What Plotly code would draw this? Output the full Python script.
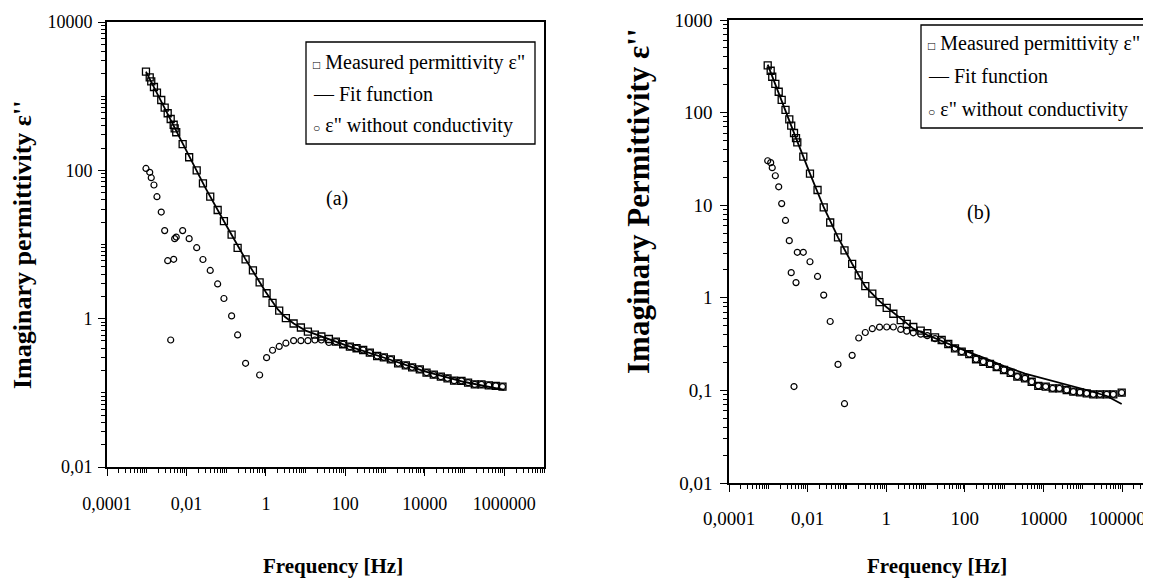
import plotly.graph_objects as go

# The page body keeps a default 8px margin, so the figure is sized and placed to fill the window.
PAGE_W, PAGE_H, BODY = 1151, 580, 8
W, H = PAGE_W - BODY, PAGE_H - BODY

# ---------------- Panel (a) data ----------------
freq_a = [9.57e-4, 1.19e-3, 1.30e-3, 1.52e-3, 1.81e-3, 2.32e-3, 2.83e-3, 3.37e-3, 4.01e-3, 4.77e-3,
          5.05e-3, 5.53e-3, 8.02e-3, 0.0117, 0.0181, 0.0260, 0.0397, 0.0610, 0.0877, 0.137,
          0.194, 0.308, 0.471, 0.695, 1.04, 1.47, 2.16, 3.18, 4.98, 7.60,
          11.4, 17.1, 24.9, 38.5, 57.7, 88.1, 130, 191, 281, 413,
          631, 931, 1396, 2128, 3327, 4797, 7482, 11040, 16830, 25290,
          37240, 54580, 83750, 122700, 181100, 266700, 407400, 610900, 901500]
measured_a = [2138, 1795, 1585, 1330, 1114, 888, 700, 588, 492, 412,
              369, 326, 226, 150, 100, 66.8, 44.2, 29.2, 20.6, 13.6,
              8.98, 6.32, 4.49, 3.09, 2.20, 1.63, 1.28, 1.02, 0.861, 0.760,
              0.667, 0.608, 0.575, 0.532, 0.490, 0.452, 0.419, 0.399, 0.378, 0.348,
              0.314, 0.301, 0.283, 0.250, 0.235, 0.221, 0.207, 0.187, 0.176, 0.165,
              0.157, 0.146, 0.145, 0.137, 0.130, 0.130, 0.126, 0.124, 0.121]
noncond_a = [106, 94.1, 79.6, 63.4, 44.1, 27.4, 15.4, 6.05, 0.516, 6.32,
             12.0, 12.6, 15.4, 12.0, 9.06, 6.28, 4.47, 2.94, 1.87, 1.09,
             0.603, 0.250, None, 0.174, 0.298, 0.375, 0.422, 0.467, 0.505, 0.505,
             0.505, 0.516, 0.516, 0.477, 0.490, 0.452, 0.419, 0.399, 0.378, 0.348,
             0.314, 0.301, 0.283, 0.250, 0.235, 0.221, 0.207, 0.187, 0.176, 0.165,
             0.157, 0.146, 0.145, 0.137, 0.130, 0.130, 0.126, 0.124, 0.121]
fit_freq_a = [9.57e-4, 1.5e-3, 3e-3, 0.01, 0.03, 0.1, 0.3, 1, 2, 3, 5, 10, 30, 100, 1000, 1e4, 1e5, 1e6]
fit_a = [2140, 1340, 660, 180, 58, 18.2, 6.45, 2.27, 1.33, 1.06, 0.86, 0.69, 0.56, 0.44, 0.295, 0.195, 0.14, 0.11]

# ---------------- Panel (b) data ----------------
freq_b = [9.66e-4, 1.15e-3, 1.26e-3, 1.51e-3, 1.84e-3, 2.19e-3, 2.74e-3, 3.42e-3, 3.83e-3, 4.51e-3,
          5.07e-3, 5.47e-3, 7.78e-3, 0.0115, 0.0179, 0.0257, 0.0376, 0.0594, 0.0869, 0.136,
          0.200, 0.294, 0.443, 0.676, 1.03, 1.52, 2.34, 3.33, 4.89, 7.55,
          11.1, 17.5, 25.8, 38.0, 56.3, 83.4, 130, 193, 296, 438,
          648, 994, 1472, 2168, 3404, 5035, 7413, 11450, 17260, 25410,
          39170, 57680, 85310, 126500, 186200, 275400, 408300, 601200, 982000]
measured_b = [324, 283, 244, 204, 168, 137, 107, 84.3, 72.2, 60.2,
              52.9, 47.8, 33.4, 21.9, 14.6, 9.49, 6.50, 4.50, 3.26, 2.33,
              1.75, 1.34, 1.11, 0.896, 0.780, 0.673, 0.575, 0.524, 0.484, 0.441,
              0.414, 0.374, 0.350, 0.317, 0.285, 0.262, 0.247, 0.217, 0.204, 0.193,
              0.178, 0.166, 0.155, 0.141, 0.135, 0.124, 0.112, 0.110, 0.105, 0.105,
              0.101, 0.0968, 0.0953, 0.0931, 0.0908, 0.0908, 0.0908, 0.0908, 0.0944]
noncond_b = [30.2, 28.8, 25.4, 20.8, 15.8, 10.4, 6.84, 4.14, 1.87, 0.110,
             1.46, 3.10, 3.10, 2.45, 1.70, 1.07, 0.555, 0.191, 0.0718, 0.239,
             0.368, 0.422, 0.464, 0.482, 0.484, 0.484, 0.455, 0.436, 0.419, 0.405,
             0.390, 0.362, 0.345, 0.317, 0.285, 0.262, 0.247, 0.217, 0.204, 0.193,
             0.178, 0.166, 0.155, 0.141, 0.135, 0.124, 0.112, 0.110, 0.105, 0.105,
             0.101, 0.0968, 0.0953, 0.0931, 0.0908, 0.0908, 0.0908, 0.0908, 0.0944]
fit_freq_b = [9.66e-4, 2.19e-3, 5.07e-3, 0.0115, 0.0257, 0.0594, 0.136, 0.294, 0.676, 1.03, 2.34, 4.89,
              11.1, 25.8, 56.3, 130, 296, 994, 3404, 11450, 39170, 126500, 408300, 982000]
fit_b = [330, 137, 53, 21.9, 9.5, 4.5, 2.33, 1.32, 0.92, 0.79, 0.59, 0.465,
         0.396, 0.342, 0.294, 0.257, 0.226, 0.183, 0.152, 0.133, 0.116, 0.101, 0.087, 0.0713]

legend_lines = ['<span style="font-size:12px">□</span> Measured permittivity ε"',
                '— Fit function',
                '<span style="font-size:12px">○</span> ε" without conductivity']
y_title_a = "Imaginary permittivity ε''"
y_title_b = "Imaginary Permittivity ε''"
x_title = "Frequency [Hz]"

SERIF = "Liberation Serif, Times New Roman, serif"

fig = go.Figure()

def add_panel(xa, ya, f, meas, nc, ff, fv):
    fig.add_trace(go.Scatter(x=ff, y=fv, mode="lines", line=dict(color="black", width=1.8),
                             xaxis=xa, yaxis=ya, showlegend=False, hoverinfo="skip"))
    fig.add_trace(go.Scatter(x=f, y=meas, mode="markers",
                             marker=dict(symbol="square-open", size=7, color="black", line=dict(width=1.3)),
                             xaxis=xa, yaxis=ya, showlegend=False))
    fig.add_trace(go.Scatter(x=f, y=nc, mode="markers",
                             marker=dict(symbol="circle-open", size=6, color="black", line=dict(width=1.2)),
                             xaxis=xa, yaxis=ya, showlegend=False))

add_panel("x", "y", freq_a, measured_a, noncond_a, fit_freq_a, fit_a)
add_panel("x2", "y2", freq_b, measured_b, noncond_b, fit_freq_b, fit_b)

def px(x):
    return (x - BODY) / W

def py(y):
    return 1 - (y - BODY) / H

minor = dict(ticks="outside", ticklen=4, tickwidth=1, tickcolor="black", dtick="D1")
common = dict(type="log", showline=True, linecolor="black", linewidth=1.6, ticks="outside",
              tickcolor="black", tickwidth=1.3, ticklen=7, showgrid=False, zeroline=False,
              tickmode="linear", tick0=0, tickformat="~f", minor=minor, automargin=False,
              ticklabeloverflow="allow")

fig.update_layout(
    width=W, height=H, margin=dict(l=0, r=0, t=0, b=0, autoexpand=False),
    paper_bgcolor="white", plot_bgcolor="white", separators=", ",
    font=dict(family=SERIF, color="black"),
    xaxis=dict(common, domain=[px(107), px(544)], range=[-4, 7], anchor="y", dtick=2, mirror=True,
               tickfont=dict(size=18, family=SERIF), ticklabelstandoff=13),
    yaxis=dict(common, domain=[py(467), py(22)], range=[-2, 4], anchor="x", dtick=2, mirror=True,
               tickfont=dict(size=18, family=SERIF), ticklabelstandoff=2),
    xaxis2=dict(common, domain=[px(729), 1.0], range=[-4, 6.738], anchor="y2", dtick=2, mirror=True,
                tickfont=dict(size=19, family=SERIF), ticklabelstandoff=10),
    yaxis2=dict(common, domain=[py(483), py(20)], range=[-2, 3], anchor="x2", dtick=1, mirror=False,
                tickfont=dict(size=19, family=SERIF), ticklabelstandoff=4),
)

anns = []
def ann(text, x, y, size, bold=False, angle=0, xanchor="center"):
    t = f"<b>{text}</b>" if bold else text
    anns.append(dict(text=t, x=px(x), y=py(y), xref="paper", yref="paper", showarrow=False,
                     xanchor=xanchor, yanchor="middle", textangle=angle,
                     font=dict(family=SERIF, size=size, color="black")))

ann(y_title_a, 22, 245, 26, bold=True, angle=-90)
ann(y_title_b, 638, 201, 31, bold=True, angle=-90)
ann(x_title, 333, 566, 21, bold=True)
ann(x_title, 937, 566, 21, bold=True)
ann("(a)", 337, 198, 20)
ann("(b)", 978, 213, 20)

for i, (ly, ry) in enumerate(zip([63, 94, 126], [44, 76, 109])):
    ann(legend_lines[i], 311, ly, 20, xanchor="left")
    ann(legend_lines[i], 926, ry, 20, xanchor="left")

fig.update_layout(annotations=anns)

fig.add_shape(type="rect", xref="paper", yref="paper", x0=px(306), x1=px(535), y0=py(144), y1=py(42),
              line=dict(color="black", width=1.3))
fig.add_shape(type="rect", xref="paper", yref="paper", x0=px(921), x1=px(1165), y0=py(128), y1=py(25),
              line=dict(color="black", width=1.3))

fig.write_html("out.html")
